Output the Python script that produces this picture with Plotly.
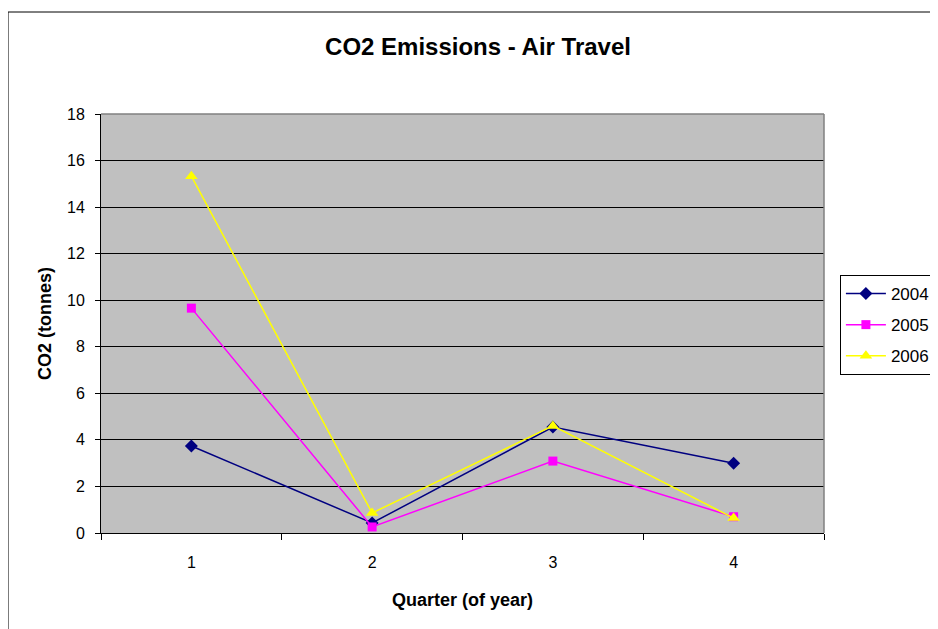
import plotly.graph_objects as go

quarters = ["1", "2", "3", "4"]
series_names = ["2004", "2005", "2006"]
values_2004 = [3.74, 0.43, 4.55, 3.0]
values_2005 = [9.66, 0.26, 3.09, 0.7]
values_2006 = [15.33, 0.86, 4.6, 0.64]
y_ticks = [0, 2, 4, 6, 8, 10, 12, 14, 16, 18]

colors = ["#000080", "#FF00FF", "#FFFF00"]
symbols = ["diamond", "square", "triangle-up"]
sizes = [10, 9, 11]
data = [values_2004, values_2005, values_2006]

FONT = "Liberation Sans, Arial, sans-serif"

fig = go.Figure()
for name, vals, c, s, sz in zip(series_names, data, colors, symbols, sizes):
    fig.add_trace(go.Scatter(
        x=quarters, y=vals, name=name, mode="lines+markers", legendgroup=name,
        line=dict(color=c, width=1.5),
        marker=dict(symbol=s, size=sz, color=c),
    ))

# page body has an 8px margin: figure coordinates = screen - 8
fig.update_layout(
    width=938, height=629,
    autosize=False,
    margin=dict(l=93, r=122, t=106, b=104, autoexpand=False),
    paper_bgcolor="white",
    plot_bgcolor="#C0C0C0",
    font=dict(family=FONT, size=16, color="black"),
    title=dict(text="<b>CO2 Emissions - Air Travel</b>", x=470/938, xanchor="center",
               y=1 - 39/629, yanchor="middle", font=dict(size=24, family=FONT)),
    showlegend=True,
    legend=dict(x=1.022, y=0.6158, xanchor="left", yanchor="top",
                bordercolor="black", borderwidth=1, bgcolor="white",
                font=dict(size=17, family=FONT), tracegroupgap=6, itemwidth=40),
    xaxis=dict(type="category", tickson="boundaries", ticks="outside", ticklen=6,
               range=[-0.5, 3.5], automargin=False, ticklabelstandoff=15,
               tickcolor="black", showline=True, linecolor="black", linewidth=1,
               showgrid=False, mirror=False,
               title=dict(text="<b>Quarter (of year)</b>", standoff=23, font=dict(size=18)),
               tickfont=dict(size=16)),
    yaxis=dict(range=[0, 18], tickvals=y_ticks, ticks="outside", ticklen=5,
               automargin=False, ticklabelstandoff=7,
               tickcolor="black", showline=True, linecolor="black", linewidth=1,
               showgrid=True, gridcolor="black", gridwidth=1, zeroline=False,
               title=dict(text="<b>CO2 (tonnes)</b>", standoff=10, font=dict(size=18)),
               tickfont=dict(size=16)),
)

# plot area border (gray top and right)
fig.add_shape(type="line", xref="paper", yref="paper", x0=0, x1=1, y0=1, y1=1,
              line=dict(color="#808080", width=1.5))
fig.add_shape(type="line", xref="paper", yref="paper", x0=1, x1=1, y0=0, y1=1,
              line=dict(color="#808080", width=1.5))
# outer chart frame
fig.add_shape(type="line", xref="paper", yref="paper", x0=-0.1286, x1=1.2, y0=1.2434, y1=1.2434,
              line=dict(color="black", width=1))
fig.add_shape(type="line", xref="paper", yref="paper", x0=-0.1286, x1=-0.1286, y0=1.2434, y1=-0.3,
              line=dict(color="black", width=1))

fig.write_html("out.html")
